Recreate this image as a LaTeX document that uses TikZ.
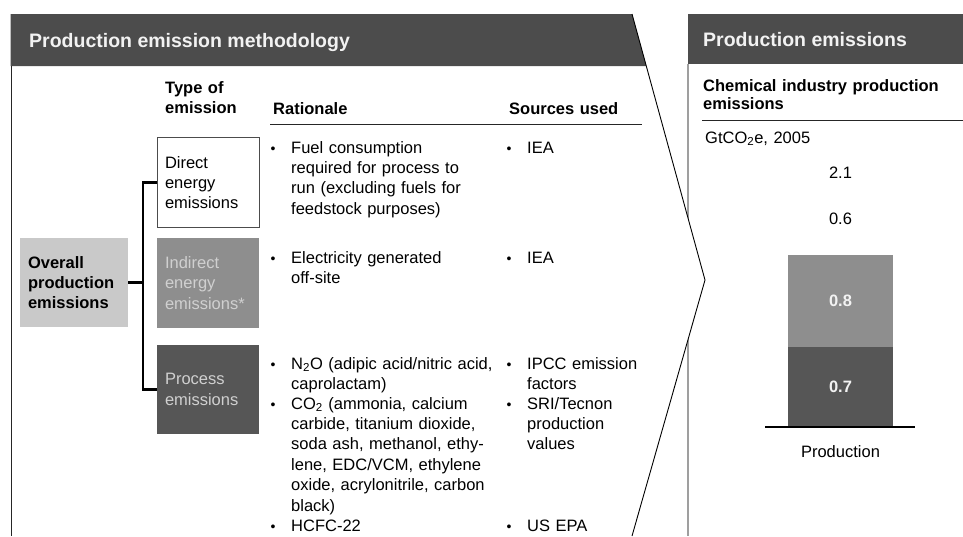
\documentclass[tikz,border=0pt]{standalone}
\usepackage{fontspec}
\setmainfont{Liberation Sans}
\usetikzlibrary{positioning,calc}
\definecolor{headgray}{RGB}{76,76,76}
\definecolor{lightbox}{RGB}{201,201,201}
\definecolor{midbox}{RGB}{142,142,142}
\definecolor{darkbox}{RGB}{86,86,86}
\definecolor{paletext}{RGB}{208,208,208}
\definecolor{headtext}{RGB}{242,242,242}
\newcommand{\bodyfont}{\fontsize{16.5}{20.4}\selectfont}
\newcommand{\headfont}{\fontsize{19.5}{22}\selectfont\bfseries}

\begin{document}
\begin{tikzpicture}[x=1pt, y=-1pt,
  typebox/.style={minimum width=102pt, minimum height=90pt, text width=86pt, inner xsep=8pt, outer sep=0pt, align=left, font=\bodyfont},
  bodytext/.style={anchor=base west, inner sep=0pt, text width=#1, align=left, font=\bodyfont},
  bodytext/.default=220pt,
  bulletmark/.style={anchor=base, inner sep=0pt, font=\fontsize{14}{14}\selectfont},
  barpart/.style={minimum width=105pt, inner sep=0pt, outer sep=0pt, font=\bodyfont},
  bracket/.style={line width=2.2pt, black}]
  \useasboundingbox (0,0) rectangle (963,536);
  \coordinate (chevtop) at (632,14);
  \coordinate (tip) at (705,280);
  \coordinate (chevbot) at (632,536);

  \fill[headgray] (688,14) rectangle (963,64);
  \draw[gray!75, line width=1.5pt] (688,64) -- (688,536);
  \fill[white] (chevtop) -- (tip) -- (chevbot) -- cycle;
  \fill[headgray] (10.5,14) -- (chevtop) -- (646.3,66) -- (10.5,66) -- cycle;
  \draw[gray!30!black, line width=1pt] (11,66) -- (11,536);

  \node[anchor=base west, inner sep=0pt, font=\headfont, text=headtext] (lefthead) at (29,47) {Production emission methodology};
  \node[anchor=base west, inner sep=0pt, font=\headfont, text=headtext] (righthead) at (703,46) {Production emissions};

  \node[bodytext=90pt, font=\bodyfont\bfseries] (typehead) at (165,93) {Type of\\emission};
  \node[bodytext=150pt, font=\bodyfont\bfseries] (rathead) at (273,114) {Rationale};
  \node[bodytext=130pt, font=\bodyfont\bfseries] (srchead) at (509,114) {Sources used};
  \draw[gray!30!black, line width=1pt] (270,124) -- (642,124);

  \node[typebox, draw=gray!60!black, fill=white] (dir) at (208,182.5) {Direct\\energy\\emissions};
  \node[typebox, fill=midbox, text=paletext] (ind) at (208,283) {Indirect\\energy\\emissions*};
  \node[typebox, fill=darkbox, text=paletext, minimum height=89pt] (proc) at (208,389.5) {Process\\emissions};
  \node[typebox, fill=lightbox, minimum width=108pt, minimum height=89pt, text width=92pt, font=\bodyfont\bfseries] (ov) at (74,282.5) {Overall\\production\\emissions};
  \draw[bracket] (ov.east) -- ++(15,0);
  \draw[bracket] (dir.west) -- ++(-14,0) |- (proc.west);

  \node[bodytext] (fuel) at (291,153) {Fuel consumption\\required for process to\\run (excluding fuels for\\feedstock purposes)};
  \node[bodytext] (elec) at (291,263) {Electricity generated\\off-site};
  \node[bodytext] (n2o) at (291,369) {N\textsubscript{2}O (adipic acid/nitric acid,\\caprolactam)};
  \node[bodytext] (co2) at (291,409) {CO\textsubscript{2} (ammonia, calcium\\carbide, titanium dioxide,\\soda ash, methanol, ethy-\\lene, EDC/VCM, ethylene\\oxide, acrylonitrile, carbon\\black)};
  \node[bodytext] (hcfc) at (291,531) {HCFC-22};
  \node[bodytext=130pt] (iea1) at (527,153) {IEA};
  \node[bodytext=130pt] (iea2) at (527,263) {IEA};
  \node[bodytext=130pt] (ipcc) at (527,369) {IPCC emission\\factors};
  \node[bodytext=130pt] (sri) at (527,409) {SRI/Tecnon\\production\\values};
  \node[bodytext=130pt] (epa) at (527,531) {US EPA};
  \foreach \n in {fuel,elec,n2o,co2,hcfc,iea1,iea2,ipcc,sri,epa}
    \node[bulletmark] (b-\n) at ([xshift=-18pt]\n.base west) {•};

  \node[bodytext=255pt, font=\fontsize{16.5}{18}\selectfont\bfseries] (charttitle) at (703,91) {Chemical industry production\\emissions};
  \draw[gray!30!black, line width=1pt] (702,120) -- (963,120);
  \node[bodytext=200pt] (unit) at (705,143) {GtCO\textsubscript{2}e, 2005};

  \node[barpart, fill=white, minimum height=73pt] (bar1) at (840.5,218.5) {0.6};
  \node[barpart, fill=midbox, minimum height=92pt, text=headtext, font=\bodyfont\bfseries, below=0pt of bar1] (bar2) {0.8};
  \node[barpart, fill=darkbox, minimum height=80pt, text=headtext, font=\bodyfont\bfseries, below=0pt of bar2] (bar3) {0.7};
  \node[above=3pt of bar1, inner sep=0pt, font=\bodyfont] (total) {2.1};
  \draw[black, line width=1.5pt] ([xshift=-23pt]bar3.south west) -- ([xshift=22pt]bar3.south east);
  \node[below=18pt of bar3, inner sep=0pt, font=\bodyfont] (barname) {Production};

  \draw[black, line width=0.9pt] (chevtop) -- (tip) -- (chevbot);
\end{tikzpicture}
\end{document}
